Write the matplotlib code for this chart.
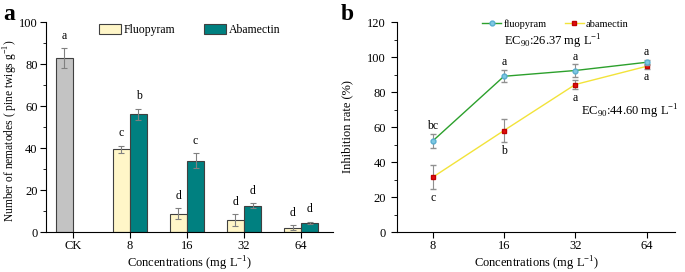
import numpy as np
import matplotlib
matplotlib.use("Agg")
import matplotlib.pyplot as plt
from matplotlib.ticker import MultipleLocator
from matplotlib.lines import Line2D

plt.rcParams['font.family'] = ['Liberation Serif', 'DejaVu Serif']
plt.rcParams['mathtext.fontset'] = 'custom'
plt.rcParams['mathtext.rm'] = 'Liberation Serif'

# panel a data
cats_a = ["CK", "8", "16", "32", "64"]
ck_val = 83.0
ck_err = 4.7
fluo_a = [39.3, 8.8, 5.8, 2.1]
fluo_a_err = [1.8, 2.6, 2.7, 1.1]
abam_a = [56.0, 34.0, 12.6, 4.4]
abam_a_err = [2.7, 3.4, 1.3, 0.5]
ck_letter = "a"
fluo_a_letters = ["c", "d", "d", "d"]
abam_a_letters = ["b", "c", "d", "d"]

# panel b data
conc_b = ["8", "16", "32", "64"]
fluo_b = [52.0, 89.0, 92.3, 97.0]
fluo_b_err = [4.0, 3.5, 3.5, 1.3]
abam_b = [31.3, 58.0, 84.3, 94.7]
abam_b_err = [7.0, 6.8, 2.5, 1.3]
fluo_b_letters = ["bc", "a", "a", "a"]
abam_b_letters = ["c", "b", "a", "a"]

fig = plt.figure(figsize=(6.85, 2.72), dpi=100)

# ---------- a ----------
ax = fig.add_axes([0.0672, 0.147, 0.419, 0.772])
xpos = np.arange(len(cats_a))
w = 0.30
ekw = dict(ecolor="#808080", elinewidth=0.8, capsize=2, capthick=0.8)
ax.bar(xpos[0] - w / 2, ck_val, w, yerr=ck_err, color="#c3c3c3", edgecolor="#404040",
       linewidth=0.8, error_kw=ekw)
ax.bar(xpos[1:] - w / 2, fluo_a, w, yerr=fluo_a_err, color="#fff6c8",
       edgecolor="#404040", linewidth=0.8, error_kw=ekw, label="Fluopyram")
ax.bar(xpos[1:] + w / 2, abam_a, w, yerr=abam_a_err, color="#008080",
       edgecolor="#404040", linewidth=0.8, error_kw=ekw, label="Abamectin")
ax.text(xpos[0] - w / 2, ck_val + ck_err + 3, ck_letter, ha="center", va="bottom", fontsize=8.5)
for i in range(4):
    ax.text(xpos[i + 1] - w / 2, fluo_a[i] + fluo_a_err[i] + 3, fluo_a_letters[i],
            ha="center", va="bottom", fontsize=8.5)
    ax.text(xpos[i + 1] + w / 2, abam_a[i] + abam_a_err[i] + 3, abam_a_letters[i],
            ha="center", va="bottom", fontsize=8.5)
ax.set_xlim(-0.47, 4.56)
ax.set_ylim(0, 100)
ax.set_xticks(xpos)
ax.set_xticklabels(cats_a)
ax.yaxis.set_major_locator(MultipleLocator(20))
ax.yaxis.set_minor_locator(MultipleLocator(10))
ax.spines["top"].set_visible(False)
ax.spines["right"].set_visible(False)
ax.tick_params(labelsize=9, length=4, width=0.8, pad=2)
ax.tick_params(which="minor", length=2, width=0.6)
ax.set_xlabel("Concentrations (mg L$^{-1}$)", fontsize=9, labelpad=2)
ax.set_ylabel("Number of nematodes ( pine twigs g$^{-1}$)", fontsize=8.3, va="center")
ax.yaxis.set_label_coords(-0.122, 0.48)
ax.legend(loc="upper center", bbox_to_anchor=(0.5, 1.04), ncol=2, frameon=False,
          fontsize=8.5, handlelength=1.86, handleheight=0.9, columnspacing=2.5,
          handletextpad=0.2)
fig.text(0.005, 0.925, "a", fontsize=17, fontweight="bold")

# ---------- b ----------
bx = fig.add_axes([0.5796, 0.147, 0.406, 0.772])
xb = np.arange(len(conc_b))
fl_style = dict(color="#2ca02c", lw=1, marker="o", ms=3.5, mfc="#7ec8e3", mec="#5aaed0")
ab_style = dict(color="#f2e33a", lw=1, marker="s", ms=3, mfc="#e01010", mec="#c00000")
bx.errorbar(xb, fluo_b, yerr=fluo_b_err, ecolor="#909090", elinewidth=0.8,
            capsize=2, zorder=3, **fl_style)
bx.errorbar(xb, abam_b, yerr=abam_b_err, ecolor="#909090", elinewidth=0.8,
            capsize=2, zorder=2, **ab_style)
for i in range(4):
    bx.text(xb[i], fluo_b[i] + fluo_b_err[i] + 1, fluo_b_letters[i],
            ha="center", va="bottom", fontsize=8.5)
    bx.text(xb[i], abam_b[i] - abam_b_err[i] - 1.5, abam_b_letters[i],
            ha="center", va="top", fontsize=8.5)
bx.text(1.0, 106.5, "EC$_{90}$:26.37 mg L$^{-1}$", fontsize=9)
bx.text(2.08, 66.5, "EC$_{90}$:44.60 mg L$^{-1}$", fontsize=9)
bx.set_xlim(-0.5, 3.4)
bx.set_ylim(0, 120)
bx.set_xticks(xb)
bx.set_xticklabels(conc_b)
bx.yaxis.set_major_locator(MultipleLocator(20))
bx.yaxis.set_minor_locator(MultipleLocator(10))
bx.spines["top"].set_visible(False)
bx.spines["right"].set_visible(False)
bx.tick_params(labelsize=9, length=4, width=0.8, pad=2)
bx.tick_params(axis="y", pad=4)
bx.tick_params(which="minor", length=2, width=0.6)
bx.set_xlabel("Concentrations (mg L$^{-1}$)", fontsize=9, labelpad=2)
bx.set_ylabel("Inhibition rate (%)", fontsize=9, labelpad=10)
handles = [Line2D([], [], **fl_style), Line2D([], [], **ab_style)]
bx.legend(handles, ["fluopyram", "abamectin"], loc="upper center",
          bbox_to_anchor=(0.57, 1.06), ncol=2, frameon=False,
          fontsize=7.5, handlelength=1.8, columnspacing=1.8, handletextpad=0.2)
fig.text(0.497, 0.925, "b", fontsize=17, fontweight="bold")

fig.savefig("out.png", dpi=100)
